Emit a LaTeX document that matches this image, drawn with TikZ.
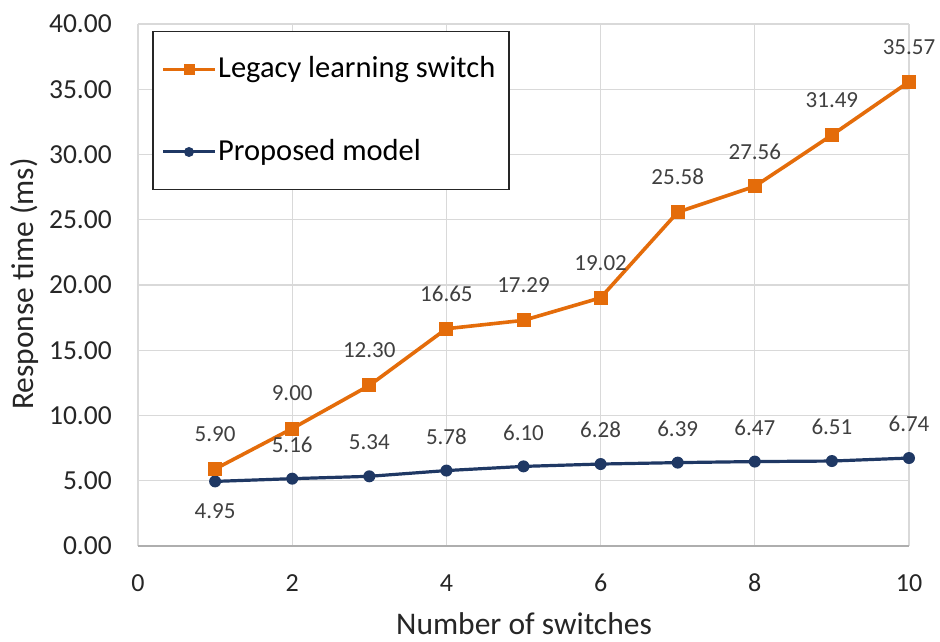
\documentclass[tikz,border=0pt]{standalone}
\usepackage{fontspec}
\setmainfont{Carlito}
\usetikzlibrary{calc}
\definecolor{legacyorange}{HTML}{E46C0A}
\definecolor{modelblue}{HTML}{1F3864}
\definecolor{gridgrey}{HTML}{D9D9D9}
\definecolor{ticktext}{HTML}{262626}
\definecolor{valtext}{HTML}{404040}
\tikzset{
  gridline/.style={draw=gridgrey, line width=1.3pt},
  legacyline/.style={draw=legacyorange, line width=3.6pt, line join=round},
  modelline/.style={draw=modelblue, line width=3.2pt, line join=round},
  sqmark/.style={draw=none, fill=legacyorange, minimum size=14pt, inner sep=0pt, rectangle},
  dotmark/.style={draw=none, fill=modelblue, minimum size=12pt, inner sep=0pt, circle},
  ytick/.style={anchor=east, text=ticktext, font=\fontsize{27.5}{30}\selectfont, inner sep=0pt},
  xtick/.style={anchor=center, text=ticktext, font=\fontsize{26}{29}\selectfont, inner sep=0pt},
  vallabel/.style={anchor=center, text=valtext, font=\fontsize{23}{26}\selectfont, inner sep=0pt},
  axtitle/.style={anchor=center, text=ticktext, font=\fontsize{31.5}{34}\selectfont, inner sep=0pt},
  legtext/.style={anchor=west, text=black, font=\fontsize{30.5}{33}\selectfont, inner sep=0pt},
}
\begin{document}
\begin{tikzpicture}[x=1pt,y=1pt]
\useasboundingbox (0,0) rectangle (940,641);
\fill[white] (0,0) rectangle (940,641);

% data frame: x in switches, y in ms
\begin{scope}[shift={(138pt,95pt)}, x=77.1pt, y=13.05pt]
  % horizontal grid
  \foreach \v in {5,10,...,40} \draw[gridline] (0,\v) -- (10,\v);
  % vertical grid
  \foreach \u in {0,2,...,10} \draw[gridline] (\u,0) -- (\u,40);
  \draw[draw=gridgrey!80!black, line width=1.3pt] (0,0) -- (10,0);

  % y tick labels
  \foreach \v/\t in {0/0.00,5/5.00,10/10.00,15/15.00,20/20.00,25/25.00,30/30.00,35/35.00,40/40.00}
    \node[ytick] (yt\v) at ([xshift=-26pt]0,\v) {\t};
  % x tick labels
  \foreach \u in {0,2,...,10}
    \node[xtick] (xt\u) at ([yshift=-37pt]\u,0) {\u};

  % data points
  \foreach \i/\a/\b in {1/5.90/4.95, 2/9.00/5.16, 3/12.30/5.34, 4/16.65/5.78, 5/17.29/6.10,
                         6/19.02/6.28, 7/25.58/6.39, 8/27.56/6.47, 9/31.49/6.51, 10/35.57/6.74} {
    \coordinate (o\i) at (\i,\a);
    \coordinate (b\i) at (\i,\b);
  }
\end{scope}

% series lines
\draw[modelline] (b1) -- (b2) -- (b3) -- (b4) -- (b5) -- (b6) -- (b7) -- (b8) -- (b9) -- (b10);
\draw[legacyline] (o1) -- (o2) -- (o3) -- (o4) -- (o5) -- (o6) -- (o7) -- (o8) -- (o9) -- (o10);

% markers and value labels
\foreach \i/\a/\b in {1/5.90/4.95, 2/9.00/5.16, 3/12.30/5.34, 4/16.65/5.78, 5/17.29/6.10,
                       6/19.02/6.28, 7/25.58/6.39, 8/27.56/6.47, 9/31.49/6.51, 10/35.57/6.74} {
  \node[dotmark] (bm\i) at (b\i) {};
  \node[sqmark] (om\i) at (o\i) {};
  \node[vallabel] (ol\i) at ([yshift=35pt]o\i) {\a};
}
\node[vallabel] (bl1) at ([yshift=-30pt]b1) {4.95};
\foreach \i/\b in {2/5.16, 3/5.34, 4/5.78, 5/6.10, 6/6.28, 7/6.39, 8/6.47, 9/6.51, 10/6.74}
  \node[vallabel] (bl\i) at ([yshift=34pt]b\i) {\b};

% axis titles
\node[axtitle] (xtitle) at (524,17) {Number of switches};
\node[axtitle, rotate=90] (ytitle) at (25,357) {Response time (ms)};

% legend
\node[draw=black!85, line width=1.5pt, fill=white, minimum width=356pt, minimum height=158pt,
      inner sep=0pt, anchor=north west] (legend) at (152,610) {};
\coordinate (la1) at (163,571);
\coordinate (la2) at (215,571);
\coordinate (lb1) at (163,489);
\coordinate (lb2) at (215,489);
\draw[draw=legacyorange, line width=3pt] (la1) -- (la2);
\node[sqmark, minimum size=11pt] (lam) at ($(la1)!0.5!(la2)$) {};
\draw[draw=modelblue, line width=3pt] (lb1) -- (lb2);
\node[dotmark, minimum size=10pt] (lbm) at ($(lb1)!0.5!(lb2)$) {};
\node[legtext] (lat) at (218,571) {Legacy learning switch};
\node[legtext] (lbt) at (218,489) {Proposed model};
\end{tikzpicture}
\end{document}
